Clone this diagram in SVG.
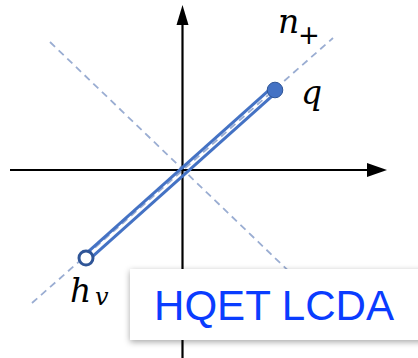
<svg xmlns="http://www.w3.org/2000/svg" width="418" height="358" viewBox="0 0 418 358">
<defs>
<style>
.axis{stroke:#000;stroke-width:2.2;fill:none}
.dash{stroke:#9AADD2;stroke-width:1.8;stroke-dasharray:7 5;fill:none}
.rail{stroke:#4472C4;stroke-width:3;fill:none}
.math{font-family:"DejaVu Serif","Liberation Serif",serif;font-style:italic;fill:#000}
.lbl{font-family:"Liberation Sans",Arial,sans-serif;fill:#0A3CFF}
</style>
<filter id="sh" x="-10%" y="-20%" width="130%" height="150%">
<feDropShadow dx="0" dy="2" stdDeviation="3" flood-color="#000" flood-opacity="0.35"/>
</filter>
</defs>
<rect width="418" height="358" fill="#fff"/>
<g id="connectors">
<line class="dash" x1="32" y1="303" x2="333" y2="38"/>
<line class="dash" x1="50" y1="42" x2="300" y2="282"/>
<line class="axis" x1="182.5" y1="22" x2="182.5" y2="358"/>
<polygon points="182.5,5 176.5,25 188.5,25" fill="#000"/>
<line class="axis" x1="10" y1="170" x2="370" y2="170"/>
<polygon points="387,170 367,163 367,177" fill="#000"/>
<line class="rail" x1="88.2" y1="260.4" x2="276.2" y2="92.4"/>
<line class="rail" x1="83.8" y1="255.6" x2="271.8" y2="87.6"/>
</g>
<g id="q-node">
<circle cx="275" cy="90" r="7.8" fill="#4472C4" stroke="#2F5597" stroke-width="1"/>
</g>
<g id="hv-node">
<circle cx="86" cy="258" r="7" fill="#fff" stroke="#2F5597" stroke-width="3"/>
</g>
<g id="labels">
<text class="math" x="278" y="33" font-size="33">n</text>
<text x="298" y="44" font-size="26" font-family="DejaVu Sans,sans-serif" fill="#000">+</text>
<text class="math" x="301" y="104" font-size="33">q</text>
<text class="math" x="70" y="302" font-size="33">h</text>
<text class="math" x="95" y="305" font-size="24">v</text>
</g>
<g id="hqet-box">
<rect x="130" y="269" width="300" height="71" fill="#fff" filter="url(#sh)"/>
<text class="lbl" x="154" y="320" font-size="42" textLength="240" lengthAdjust="spacingAndGlyphs">HQET LCDA</text>
</g>
</svg>
